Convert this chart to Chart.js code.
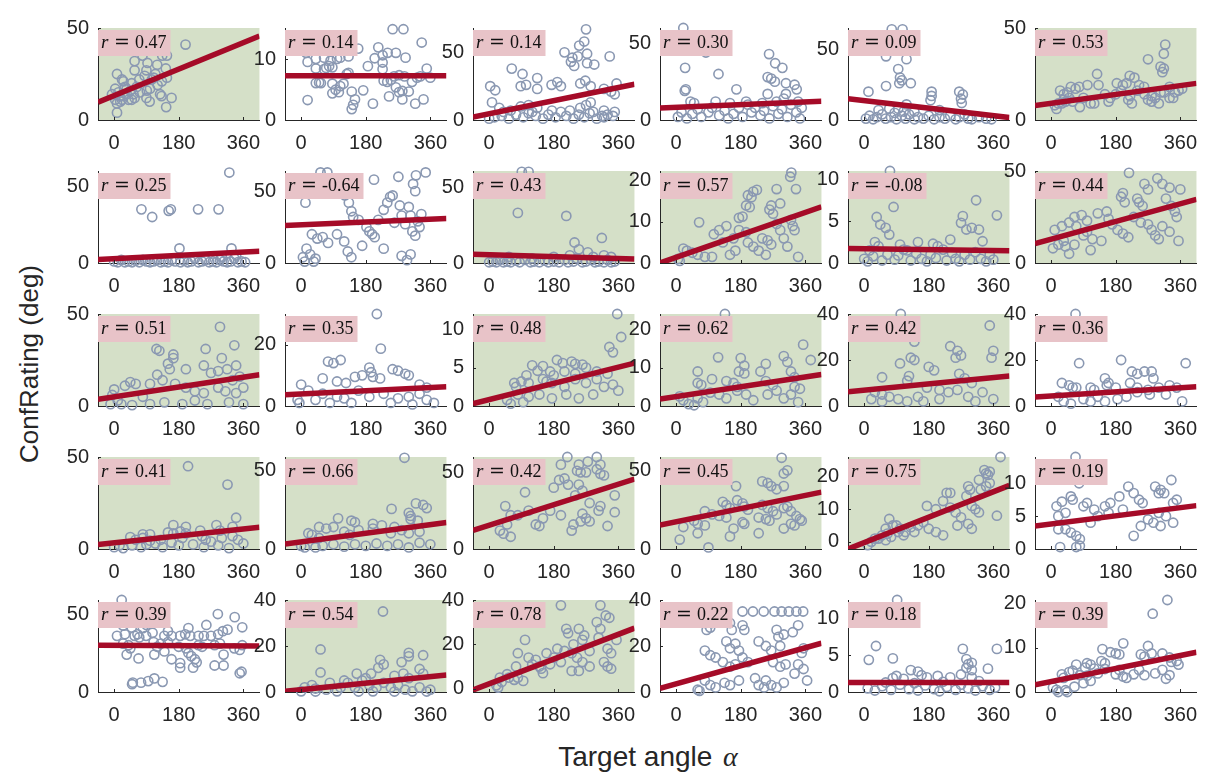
<!DOCTYPE html>
<html>
<head>
<meta charset="utf-8">
<script src="https://cdn.jsdelivr.net/npm/chart.js@4.4.1/dist/chart.umd.min.js"></script>
<style>
body { margin: 0; background: #fff; width: 1211px; height: 775px; position: relative; overflow: hidden; font-family: "Liberation Sans", Arial, sans-serif; }
canvas.panel { position: absolute; }
#ylab { position: absolute; left: 29px; top: 364px; transform: translate(-50%, -50%) rotate(-90deg); font-size: 26px; color: #262626; white-space: nowrap; }
#xlab { position: absolute; left: 648px; top: 757px; transform: translate(-50%, -50%); font-size: 28px; color: #262626; white-space: nowrap; }
#xlab span { font-family: "Liberation Serif", serif; font-style: italic; margin-left: 3px; }
</style>
</head>
<body>
<div id="ylab">ConfRating (deg)</div>
<div id="xlab">Target angle <span>α</span></div>
<script>
// target angle axis
var xTicks = [0, 180, 360];
var xRange = [-45, 405];

// per panel settings, row by row
var rValues = ["0.47", "0.14", "0.14", "0.30", "0.09", "0.53",
               "0.25", "-0.64", "0.43", "0.57", "-0.08", "0.44",
               "0.51", "0.35", "0.48", "0.62", "0.42", "0.36",
               "0.41", "0.66", "0.42", "0.45", "0.75", "0.19",
               "0.39", "0.54", "0.78", "0.22", "0.18", "0.39"];
var yMin = [0, 0, 0, 0, 0, 0,
            0, 0, 0, 0, 0, 0,
            0, 0, 0, 0, 0, 0,
            0, 0, 0, 0, -2.2, 0,
            0, 0, -1.5, 0, 0, 0];
var yMax = [50, 15.2, 68, 60, 65, 50,
            60, 64, 60.6, 22.4, 11, 50,
            50, 30, 12, 24, 40, 40,
            50, 58.5, 60, 58.5, 26, 14,
            59, 40, 40, 40, 12.6, 20.8];
var yTickSets = [[0, 50], [0, 10], [0, 50], [0, 50], [0, 50], [0, 50],
                 [0, 50], [0, 50], [0, 50], [0, 10, 20], [0, 5, 10], [0, 50],
                 [0, 50], [0, 20], [0, 5, 10], [0, 10, 20], [0, 20, 40], [0, 20, 40],
                 [0, 50], [0, 50], [0, 50], [0, 50], [0, 10, 20], [0, 5, 10],
                 [0, 50], [0, 20, 40], [0, 20, 40], [0, 20, 40], [0, 5, 10], [0, 10, 20]];
// regression line value at x = -45 and x = 405
var fitLeft = [9.7, 7.3, 2.2, 7.8, 15.1, 7.8,
               2.2, 26, 5.7, 0, 1.74, 10.5,
               3.7, 3.7, 0.3, 1.8, 6.2, 3.9,
               2.4, 3.2, 12.2, 15.3, -2.2, 3.5,
               30, 0.3, -0.6, 1.6, 1.3, 1.6];
var fitRight = [45.6, 7.3, 26.4, 12.2, 1.7, 19.9,
                7.6, 30.9, 2.7, 13.7, 1.46, 34.6,
                17, 6.3, 5.6, 8.2, 13, 8.4,
                11.8, 16.8, 45.6, 36.2, 17.3, 6.6,
                29.5, 7.4, 27.3, 21.2, 1.3, 9];
// significant panels get the green background
var significant = [1, 0, 0, 0, 0, 1,
                   0, 0, 1, 1, 1, 1,
                   1, 0, 1, 1, 1, 0,
                   1, 1, 1, 1, 1, 0,
                   0, 1, 1, 0, 0, 0];

// [target angle, confidence rating] per panel
var pts01 = [[199,41],[79,35],[134,35],[147,35],[57,32],[93,31],[120,30],[57,27],[90,27],[144,28],[8,25],[85,24],[22,22],[26,21],[49,20],[105,22],[110,23],[147,23],[121,19],[133,21],[3,17],[35,17],[63,18],[91,16],[-6,14],[12,15],[35,14],[57,12],[49,11],[3,11],[22,11],[8,9],[17,10],[99,10],[128,14],[132,13],[160,12],[145,7],[8,4],[72,15],[54,14],[40,11],[90,12],[26,13],[30,18],[70,22],[100,17],[115,25],[15,13],[45,16]];
var pts02 = [[255,15],[285,15],[336,12.8],[14,11.1],[41,10.1],[64,10.3],[18,9.6],[41,8.5],[82,9.8],[100,10.1],[109,10.3],[132,10.5],[159,11.8],[70,8.6],[78,8.9],[87,8.7],[64,8.4],[127,7.6],[132,7.8],[41,6.1],[50,6.2],[55,6.1],[87,6],[109,5.6],[118,6],[87,4.4],[96,5],[105,4.6],[141,4.7],[150,3.4],[145,2.5],[141,1.8],[173,4.9],[18,3.3],[200,2.7],[186,8.9],[205,10.2],[227,10.7],[241,11.1],[264,11.1],[291,10.3],[227,9.5],[227,8.4],[230,6.5],[240,6.3],[250,6.6],[259,7.2],[273,7.4],[288,7.2],[264,5.4],[273,4.6],[282,4.8],[245,3.9],[282,3.4],[300,4.7],[309,6.3],[323,7],[332,7.2],[350,8.5],[318,2.7],[341,3.4],[60,12],[100,12.5],[215,12],[360,7]];
var pts03 = [[270,67],[251,55],[265,58],[210,50],[273,49],[336,47],[232,46],[247,47],[228,43],[237,40],[273,42],[293,41],[63,38],[93,34],[134,31],[3,25],[17,22],[88,25],[103,26],[134,23],[174,26],[190,28],[200,25],[254,27],[268,29],[283,25],[355,27],[320,23],[340,21],[350,19],[8,13],[28,9],[88,10],[110,11],[134,9],[254,9],[270,11],[283,13],[320,7],[350,6],[320,2],[315,3],[0,1],[15,2],[35,3],[55,1],[75,4],[95,2],[110,5],[130,3],[150,1],[165,4],[185,2],[200,6],[215,3],[235,1],[250,4],[265,2],[280,5],[300,1],[330,4],[345,3],[40,6],[60,7],[120,6],[175,7],[225,7],[290,6]];
var pts04 = [[20,60],[83,44],[25,34],[27,20],[24,19],[118,30],[168,20],[259,43],[276,37],[296,34],[255,28],[265,27],[275,25],[306,24],[330,23],[336,20],[255,17],[306,17],[300,14],[40,12],[50,11],[110,12],[150,11],[195,12],[200,10],[5,2],[15,5],[30,1],[45,4],[60,7],[70,2],[90,5],[100,8],[120,3],[135,6],[145,1],[160,4],[175,8],[185,2],[210,5],[220,8],[235,3],[245,6],[260,1],[270,9],[285,4],[295,7],[310,2],[320,10],[335,5],[345,1],[350,8],[240,11],[280,12],[340,12]];
var pts05 = [[77,64],[107,64],[61,45],[118,43],[95,36],[100,30],[105,28],[98,26],[130,26],[61,24],[12,20],[188,20],[188,17],[185,14],[265,20],[275,18],[270,15],[272,12],[118,11],[70,8],[40,7],[5,1],[15,3],[25,0.5],[35,2],[50,4],[60,1],[75,2],[85,5],[90,0.5],[105,3],[115,1],[125,4],[140,0.5],[150,2],[165,1],[180,3],[195,0.5],[210,2],[225,1],[240,3],[255,0.5],[265,2],[280,4],[290,1],[300,0.5],[320,2],[340,1],[355,0.5],[95,8],[110,6],[140,6],[210,7]];
var pts06 = [[318,41],[314,36],[270,33],[305,29],[310,26],[314,28],[128,25],[219,24],[232,23],[183,20],[200,19],[210,20],[245,19],[259,18],[101,19],[132,19],[55,18],[68,17],[78,18],[45,15],[35,14],[25,16],[40,10],[30,9],[20,9],[35,11],[50,12],[80,7],[120,9],[110,9],[160,10],[165,12],[150,14],[215,11],[225,9],[220,13],[280,10],[270,11],[290,12],[300,9],[330,12],[340,12],[345,15],[355,16],[365,17],[305,15],[315,15],[260,14],[280,13],[10,8],[15,6],[60,10],[90,12],[180,14],[240,16],[330,18],[195,16]];
var pts07 = [[321,59],[76,35],[106,30],[152,34],[158,35],[234,35],[291,35],[182,9.5],[327,9.5],[0,1],[10,0.5],[20,2],[30,0.5],[40,1],[50,0.5],[60,1.5],[70,0.5],[80,2],[90,1],[100,0.5],[110,1],[120,2],[130,0.5],[140,1],[150,0.5],[160,2],[170,1],[185,0.5],[195,1.5],[205,0.5],[215,1],[225,3],[235,0.5],[245,1],[255,2],[265,0.5],[275,1],[285,0.5],[295,2],[305,1],[315,0.5],[325,1],[335,3],[345,0.5],[355,1],[365,0.5],[300,4],[340,5]];
var pts08 = [[54,63],[73,63],[203,58],[271,60],[320,61],[347,63],[12,42],[122,47],[133,42],[140,36],[145,32],[230,37],[240,42],[248,46],[255,47],[275,40],[280,33],[300,39],[305,33],[312,55],[318,50],[310,22],[318,19],[330,25],[325,29],[182,25],[190,22],[198,20],[205,18],[30,20],[45,17],[60,18],[75,14],[15,10],[25,6],[40,3],[35,1],[120,15],[130,8],[140,4],[230,10],[280,5],[295,2],[305,6],[5,4],[10,1],[160,30],[215,30],[260,28],[290,27],[335,34],[100,20],[170,12]];
var pts09 = [[91,60],[110,60],[80,33],[215,31],[314,16.5],[238,13.5],[250,9],[275,7],[0,0.5],[10,1],[20,0.5],[30,2],[40,0.5],[50,1],[60,0.5],[75,1.5],[85,0.5],[100,2],[115,0.5],[125,1],[140,0.5],[155,1.5],[165,0.5],[180,1],[195,0.5],[210,2],[220,0.5],[235,1],[245,3],[260,0.5],[270,1],[285,2],[295,0.5],[305,1],[320,0.5],[330,2],[340,0.5],[350,1],[225,5],[290,4],[320,5],[340,4],[180,4],[120,3],[55,4]];
var pts10 = [[321,22],[318,21],[215,17.4],[225,17.8],[200,16.5],[210,16],[195,14],[205,13.6],[334,18],[265,14],[280,18],[290,14.5],[175,11],[185,11.3],[260,13],[270,12],[280,9.5],[290,8],[320,10.5],[325,9],[330,8],[64,9.9],[105,7],[120,8],[140,9],[175,8],[195,7.5],[200,5],[215,4],[230,3],[240,6],[255,5.5],[265,4.5],[20,3.5],[30,3],[45,2.5],[60,2],[5,1],[10,0.5],[80,1.5],[100,1.5],[150,2],[165,3],[250,2],[340,1.5],[130,5],[160,6],[300,6],[310,4]];
var pts11 = [[72,11],[82,6.7],[312,7.5],[370,5.7],[35,5.5],[45,4.6],[60,4.2],[70,3.4],[275,5.6],[270,4.8],[285,4],[300,4.2],[320,4],[30,2.5],[40,2],[15,1.5],[100,2.2],[110,1.6],[120,1.5],[192,2.3],[205,2],[220,1.6],[0,0.5],[10,0.2],[25,0.8],[50,0.3],[65,1],[85,0.4],[95,0.9],[130,0.3],[145,1.1],[160,0.5],[175,0.2],[185,1],[200,0.6],[230,0.3],[245,1.2],[255,0.5],[265,0.2],[280,1],[295,0.4],[310,1.3],[325,0.5],[340,0.2],[350,1],[360,0.4],[150,2.5],[240,2.8],[330,2.6]];
var pts12 = [[217,49],[296,46],[310,43],[330,41],[360,40],[260,43],[270,40],[200,38],[240,35],[245,33],[255,31],[195,36],[205,33],[155,28],[320,35],[335,31],[345,28],[350,25],[65,25],[85,26],[100,23],[130,27],[160,24],[50,22],[70,20],[100,17],[10,18],[30,20],[90,15],[115,13],[140,12],[170,21],[185,18],[200,16],[215,14],[270,21],[280,18],[290,15],[300,13],[355,12],[40,9],[50,5],[110,7],[35,12],[65,10],[20,10],[5,8],[230,25],[250,22],[310,20],[330,17]];
var pts13 = [[295,43],[118,31],[126,30],[165,28],[165,26],[255,31],[335,33],[150,23],[155,20],[200,20],[250,22],[270,18],[290,19],[300,26],[315,20],[330,14],[120,17],[135,14],[100,12],[45,13],[30,11],[60,12],[0,9],[-5,6],[10,3],[-10,1],[20,1],[50,0.5],[100,1],[140,2],[190,1],[225,3],[260,1],[320,2],[360,1],[170,12],[200,10],[225,8],[250,7],[290,10],[310,8],[340,7],[360,10],[80,5],[350,16],[340,22]];
var pts14 = [[211,30],[222,18.7],[75,14.5],[90,14],[110,15],[60,9],[190,12.5],[195,11],[200,9.5],[255,12],[270,11.5],[290,10.5],[300,10],[150,9.5],[170,10],[220,9],[100,8],[125,7.5],[0,7],[20,5],[60,4],[100,3],[120,2.5],[-10,2],[-5,1],[160,5],[190,3],[230,4],[270,2.5],[300,3],[330,4],[350,2],[370,1],[330,7],[350,6],[40,2],[80,1],[140,1],[250,1],[310,0.5]];
var pts15 = [[357,12],[368,9],[335,7.7],[345,7],[189,6],[205,5.6],[230,5.8],[240,5.5],[260,5.4],[150,5.2],[170,4.5],[180,4],[120,5.3],[104,4],[135,4.6],[150,3.5],[160,3.2],[70,3],[75,2.5],[90,3.2],[110,3],[175,3],[210,2.5],[240,3.5],[270,3],[300,3.5],[320,2.5],[345,2.8],[210,4.5],[240,4.2],[270,5],[300,4.5],[330,4.2],[80,1.5],[95,0.5],[110,1.2],[140,1.5],[175,1],[215,1.5],[50,0.8],[60,0.3],[250,1],[290,1.5],[360,2]];
var pts16 = [[136,24],[354,16],[375,12],[117,12.7],[180,12.5],[190,10.5],[175,9],[190,8.5],[250,11],[235,9],[300,13],[310,11.5],[320,9],[330,7.5],[60,9],[100,7],[60,6],[70,5.5],[140,6.5],[160,6],[170,5],[250,6.5],[270,5.5],[330,5],[345,4.5],[320,3],[10,2.5],[20,1.5],[35,0.5],[50,0.2],[60,2],[75,1],[95,3.5],[120,3],[140,2],[170,4],[195,3],[215,1.5],[255,3],[280,4],[300,2],[340,1]];
var pts17 = [[350,35],[102,40],[140,28],[240,26],[260,24],[270,22],[255,21],[130,21],[140,20],[360,24],[355,21],[100,18.5],[180,17],[195,15.5],[50,12.5],[125,13],[120,11],[265,14],[280,12],[300,10],[175,8],[210,7],[235,6],[260,7],[30,6],[50,5],[70,4],[20,3],[50,2],[95,3],[120,2],[150,4],[165,2],[210,3],[290,4],[310,2],[330,6],[360,3]];
var pts18 = [[68,40],[78,18.6],[195,20],[375,18.6],[225,15],[240,14],[260,15],[280,15],[285,12],[150,12],[160,10],[30,10],[50,9],[60,8],[70,8],[110,8],[120,7],[155,9],[180,8],[220,10],[240,8],[270,7],[300,8],[330,9],[350,8],[20,4],[35,2],[55,1],[90,3],[110,2],[130,4],[150,2],[185,3],[210,4],[240,6],[275,5],[320,5],[365,2]];
var pts19 = [[206,45],[316,35],[330,12],[340,17],[165,13],[285,13],[295,10],[80,8],[100,8],[150,9],[165,8.5],[185,9.5],[200,8.5],[45,6.5],[60,5],[80,6],[245,7],[255,5],[270,4],[300,6],[330,7],[345,5],[360,3],[0,1],[15,2],[25,0.5],[50,2],[75,1],[90,2.5],[115,3],[135,1],[160,3.5],[180,2],[220,2.5],[250,1],[290,2],[320,0.5],[100,4.5],[130,5],[190,6],[240,10],[200,12]];
var pts20 = [[288,58],[320,29],[340,28],[350,26],[252,25.5],[300,23],[305,21],[305,19],[325,18],[103,19.5],[140,18],[150,17],[200,16],[225,15],[260,14],[50,14],[70,13],[90,14],[20,10],[30,9],[50,7],[120,11],[135,9],[160,12],[200,13],[250,10],[280,12],[300,10],[330,11],[0,2],[10,1],[40,1],[60,2],[90,3],[120,1.5],[150,3],[180,2],[210,3.5],[240,2],[270,3],[300,1],[330,4],[360,3]];
var pts21 = [[218,60],[200,55],[250,55],[275,57],[300,60],[310,55],[245,51],[255,50],[270,50],[300,52],[310,49],[320,48],[210,46],[220,42],[250,42],[260,38],[240,35],[100,37],[195,45],[180,40],[45,28],[80,22],[110,25],[150,20],[170,25],[260,23],[270,20],[280,18],[255,18],[310,28],[305,25],[50,16],[60,22],[130,16],[140,15],[30,12],[40,10],[60,8],[230,12],[235,16],[350,24],[350,35],[330,15],[200,22],[280,30]];
var pts22 = [[294,58],[240,43],[255,42],[265,40],[280,38],[300,40],[300,48],[310,50],[167,40],[170,31],[185,29],[190,27],[200,25],[130,30],[140,28],[150,26],[80,24],[100,22],[120,21],[140,20],[50,18],[60,16],[80,15],[240,28],[255,26],[270,24],[280,22],[300,26],[310,27],[320,24],[335,21],[345,19],[350,18],[230,20],[250,19],[260,18],[320,16],[330,15],[185,17],[190,16],[90,1],[60,10],[160,13],[150,8],[230,10],[300,13],[20,14],[10,6]];
var pts23 = [[380,26],[340,21],[345,20.5],[335,22],[350,21.5],[320,19],[350,18],[340,17],[325,16],[230,15],[240,15],[290,17],[295,16],[285,14],[220,12.5],[175,11],[200,10],[240,10.5],[255,9],[270,7.5],[300,11],[310,10],[320,9],[370,8],[290,5.5],[300,4],[70,7],[90,5],[80,5],[100,4],[115,3],[130,4.5],[60,4],[65,2.5],[150,5],[165,6],[180,4],[200,3],[220,2],[40,1],[50,2],[60,0.5],[75,1.5],[95,3],[110,2],[20,0],[30,1],[140,3],[260,5],[10,-1]];
var pts24 = [[68,14],[78,10],[335,10.5],[290,9.5],[305,9],[315,8.5],[300,8.5],[340,7],[350,7.5],[20,5],[15,6.5],[30,7.2],[40,5.5],[55,8],[60,7.5],[90,6.5],[100,7],[150,6.5],[165,7],[190,8],[215,9.5],[230,8.5],[245,7.5],[255,7],[130,5],[160,5.5],[200,6],[270,4.5],[285,4],[305,3.5],[340,4],[40,3],[55,2.5],[70,2],[80,1.5],[20,3],[25,0.3],[80,0.5],[70,0.3],[230,2],[250,3.5],[300,5.5],[320,5],[110,4],[120,6]];
var pts25 = [[21,59],[289,50],[336,48],[357,41.5],[25,42.6],[49,41.3],[80,41],[90,43],[8,36],[30,37],[57,36],[65,37],[70,35],[89,36],[107,38],[140,36],[150,39],[160,36],[184,36],[198,37],[207,41],[212,36],[235,36],[250,36],[257,43],[270,36],[290,37],[303,39],[316,40],[25,31],[40,30],[110,32],[120,29],[130,31],[150,32],[180,29],[200,28],[235,30],[245,29],[280,30],[295,31],[335,28],[350,27],[357,30],[35,24],[45,28],[68,21.5],[112,24],[140,26],[160,21],[184,18.5],[184,15.6],[207,25],[215,23],[220,15.6],[230,19],[225,21],[280,17],[305,17],[305,24],[350,12],[355,13],[50,5],[52,6],[75,6],[95,7],[112,8.7],[135,6.5]];
var pts26 = [[228,35],[54,18.5],[54,8.5],[300,17],[300,15.5],[340,16],[220,14],[230,12],[215,10.5],[280,13],[285,8],[155,8],[195,8],[330,10],[340,8],[10,2],[30,3],[40,1.5],[70,1],[80,4],[110,2],[130,4],[150,2],[170,5],[190,3],[210,2],[230,4],[250,2],[270,3],[290,1],[300,6],[330,2],[360,1],[0,0.3],[40,0.2],[100,0.3],[160,0.2],[200,0.3],[260,0.2],[310,0.3],[350,0.2],[120,5],[180,6],[260,7]];
var pts27 = [[200,37.6],[310,37.6],[325,33],[335,32],[215,27],[220,25],[250,27],[265,24],[260,22],[300,30],[310,27],[305,23],[330,18],[340,16],[100,22],[190,18],[80,16],[110,14],[130,13],[160,16],[180,14],[200,12],[230,16],[245,14],[260,12],[280,10],[120,11],[145,9],[150,7],[230,8],[250,8],[320,12],[330,10],[340,9],[75,10],[50,6.5],[55,5],[70,4],[80,5],[95,3.5],[30,5],[35,3],[20,1.5],[25,0.5],[140,10],[170,11],[210,17],[235,20],[280,17],[355,22]];
var pts28 = [[185,35],[214,35],[244,35],[274,35],[294,35],[314,35],[335,35],[354,35],[80,30],[85,27],[100,30],[95,28],[150,30],[155,27],[185,29],[190,27],[280,27],[285,24],[290,20],[340,29],[300,25],[325,26],[140,22],[150,19],[165,21],[230,22],[250,20],[265,18],[355,19],[350,17],[80,18],[95,16],[110,15],[175,18],[185,15],[200,13],[130,13],[150,11],[165,12],[270,13],[290,11],[305,12],[340,12],[355,10],[330,8],[80,5],[95,3],[110,2],[60,1],[65,0.5],[135,4],[150,3],[175,5],[220,6],[230,3],[245,2],[250,5],[265,3],[280,2],[300,4],[365,5]];
var pts29 = [[92,12.6],[33,6.3],[80,4.6],[13,4.4],[275,5.9],[370,5.9],[285,4.5],[300,4],[290,3.8],[285,3.3],[300,3],[345,3.2],[130,3],[150,2.8],[90,2.2],[80,1.9],[110,1.8],[160,2.3],[175,2],[205,2.2],[240,2],[270,2.4],[300,2],[10,0.5],[30,0.2],[50,0.8],[75,0.3],[100,1],[125,0.4],[150,0.2],[170,0.9],[195,0.4],[210,0.1],[230,0.7],[255,0.3],[270,1],[290,0.5],[310,0.2],[330,0.8],[350,0.3],[365,0.6],[60,1.3],[140,1.2],[220,1.4],[320,1.5]];
var pts30 = [[324,20.8],[283,17.7],[201,11],[270,10.4],[143,9.7],[165,9],[180,8.7],[190,8.5],[250,8.5],[260,8],[280,8.7],[310,8.7],[330,7.8],[335,6.8],[350,7],[355,6.2],[140,7],[150,6.5],[70,6.2],[100,6.5],[110,6.2],[95,5.5],[120,5.3],[50,4.5],[60,4.8],[30,4],[35,3.2],[80,3.8],[100,3.7],[130,4.2],[150,5.2],[190,5],[180,4],[230,4],[245,5],[260,3.8],[290,4.2],[310,5],[320,3],[330,3.8],[200,3.5],[210,3.2],[15,0.5],[5,1],[20,0],[40,0.4],[45,0],[65,1.2],[90,2],[110,2.5]];

var panels = [pts01, pts02, pts03, pts04, pts05, pts06,
              pts07, pts08, pts09, pts10, pts11, pts12,
              pts13, pts14, pts15, pts16, pts17, pts18,
              pts19, pts20, pts21, pts22, pts23, pts24,
              pts25, pts26, pts27, pts28, pts29, pts30];

var colLeft = [98, 285, 473, 660, 848, 1035];
var rowTop = [17, 160, 303, 446, 589];
var plotW = 164, plotH = 103;
var padL = 52, padT = 10, padR = 10, padB = 34;
var axisColor = "#262626";
var tickFont = { family: '"Liberation Sans", Arial, sans-serif', size: 20 };

function addPanel(i) {
	var col = i % 6, row = Math.floor(i / 6);
	var cvs = document.createElement("canvas");
	cvs.className = "panel";
	cvs.setAttribute("width", plotW + padL + padR);
	cvs.setAttribute("height", plotH + padT + padB);
	cvs.style.left = (colLeft[col] - padL) + "px";
	cvs.style.top = (rowTop[row] - padT) + "px";
	document.body.appendChild(cvs);

	var points = panels[i].map(function(p) { return { x: p[0], y: p[1] }; });
	var fit = [{ x: xRange[0], y: fitLeft[i] }, { x: xRange[1], y: fitRight[i] }];

	new Chart(cvs, {
		type: "scatter",
		data: {
			datasets: [
				{
					data: fit,
					showLine: true,
					borderColor: "#a50b28",
					borderWidth: 5.5,
					borderCapStyle: "butt",
					pointRadius: 0
				},
				{
					data: points,
					pointStyle: "circle",
					pointRadius: 4.6,
					borderWidth: 1.6,
					borderColor: "#8a98b2",
					backgroundColor: "rgba(0,0,0,0)",
					clip: false
				}
			]
		},
		options: {
			responsive: false,
			animation: false,
			devicePixelRatio: 1,
			layout: { padding: { top: padT, right: padR, left: 0, bottom: 0 } },
			plugins: { legend: { display: false }, tooltip: { enabled: false } },
			scales: {
				x: {
					type: "linear", min: xRange[0], max: xRange[1],
					grid: { display: false, drawTicks: false },
					border: { display: true, color: axisColor, width: 1 },
					ticks: { font: tickFont, color: axisColor, padding: 11, maxRotation: 0, autoSkip: false },
					afterBuildTicks: function(s) { s.ticks = xTicks.map(function(v) { return { value: v }; }); },
					afterFit: function(s) { s.height = padB; }
				},
				y: {
					type: "linear", min: yMin[i], max: yMax[i],
					grid: { display: false, drawTicks: false },
					border: { display: true, color: axisColor, width: 1 },
					ticks: { font: tickFont, color: axisColor, padding: 9, autoSkip: false },
					afterBuildTicks: function(s) { s.ticks = yTickSets[i].map(function(v) { return { value: v }; }); },
					afterFit: function(s) { s.width = padL; }
				}
			}
		},
		plugins: [{
			id: "panelDeco",
			beforeDraw: function(chart) {
				if (!significant[i]) return;
				var a = chart.chartArea;
				chart.ctx.save();
				chart.ctx.fillStyle = "#d5e0c8";
				chart.ctx.fillRect(a.left, a.top, a.right - a.left, a.bottom - a.top);
				chart.ctx.restore();
			},
			afterDraw: function(chart) {
				var a = chart.chartArea, ctx = chart.ctx;
				var sx = chart.scales.x, sy = chart.scales.y;
				ctx.save();
				// inward tick marks
				ctx.strokeStyle = axisColor;
				ctx.lineWidth = 1;
				ctx.beginPath();
				xTicks.forEach(function(v) {
					var px = Math.round(sx.getPixelForValue(v)) + 0.5;
					ctx.moveTo(px, a.bottom);
					ctx.lineTo(px, a.bottom - 3);
				});
				yTickSets[i].forEach(function(v) {
					var py = Math.round(sy.getPixelForValue(v)) + 0.5;
					ctx.moveTo(a.left, py);
					ctx.lineTo(a.left + 3, py);
				});
				ctx.stroke();
				// correlation label
				var val = rValues[i];
				ctx.font = '18px "Liberation Serif", serif';
				var w = 37 + ctx.measureText(val).width + 4;
				ctx.fillStyle = "#e8c3c8";
				ctx.fillRect(a.left, a.top + 2, w, 26);
				ctx.fillStyle = "#111";
				ctx.textBaseline = "alphabetic";
				ctx.fillText(val, a.left + 37, a.top + 20);
				ctx.font = 'italic 19px "Liberation Serif", serif';
				ctx.fillText("r", a.left + 3, a.top + 20);
				ctx.font = '19px "DejaVu Serif", serif';
				ctx.fillText("=", a.left + 16, a.top + 20);
				ctx.restore();
			}
		}]
	});
}

for (var i = 0; i < panels.length; i++) {
	addPanel(i);
}
</script>
</body>
</html>
